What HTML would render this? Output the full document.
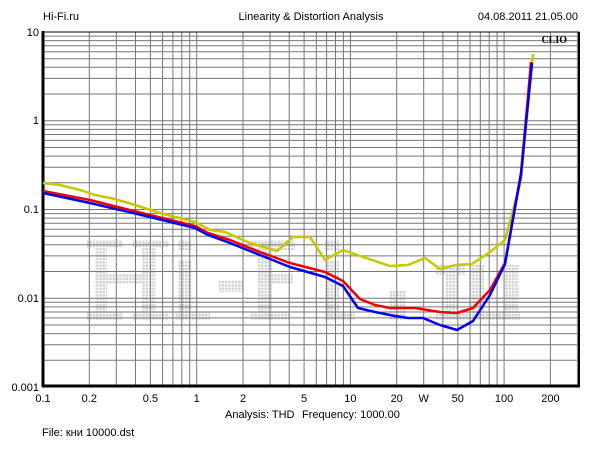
<!DOCTYPE html>
<html><head><meta charset="utf-8"><style>
html,body{margin:0;padding:0;background:#fff;width:600px;height:450px;overflow:hidden}
svg{display:block;font-family:"Liberation Sans",sans-serif}
</style></head><body>
<svg id="s" width="600" height="450" viewBox="0 0 600 450" xmlns="http://www.w3.org/2000/svg">
<defs><pattern id="dots" width="3.3" height="3.3" patternUnits="userSpaceOnUse"><circle cx="1.6" cy="1.6" r="1.4" fill="#d4d4d4"/></pattern></defs>
<rect width="600" height="450" fill="#fff"/>
<g id="wm" fill="url(#dots)">
<rect x="87" y="240" width="36" height="8"/><rect x="95" y="248" width="12" height="72"/><rect x="87" y="312" width="36" height="8"/>
<rect x="95" y="274" width="50" height="10"/>
<rect x="133" y="240" width="36" height="8"/><rect x="142" y="248" width="14" height="72"/><rect x="133" y="312" width="36" height="8"/>
<rect x="178" y="240" width="14" height="10"/><rect x="178" y="260" width="14" height="60"/><rect x="175" y="312" width="35" height="8"/>
<rect x="219" y="280" width="24" height="12"/>
<rect x="250" y="240" width="45" height="10"/><rect x="258" y="250" width="14" height="70"/><rect x="250" y="312" width="40" height="8"/><rect x="258" y="274" width="35" height="10"/>
<rect x="325" y="240" width="14" height="10"/><rect x="325" y="260" width="14" height="60"/><rect x="325" y="312" width="30" height="8"/>
<rect x="390" y="290" width="16" height="30"/>
<rect x="435" y="265" width="30" height="10"/><rect x="445" y="275" width="12" height="45"/><rect x="435" y="312" width="35" height="8"/>
<rect x="470" y="265" width="14" height="55"/><rect x="505" y="265" width="14" height="50"/><rect x="475" y="312" width="45" height="8"/>
</g>
<g id="grid" stroke="#777" stroke-width="1"></g>
<rect x="43" y="32" width="536" height="354" fill="none" stroke="#000" stroke-width="1"/>
<line x1="43" y1="31" x2="43" y2="387" stroke="#000" stroke-width="3"/>
<line x1="42" y1="386" x2="580" y2="386" stroke="#000" stroke-width="3"/>
<line x1="579" y1="32" x2="579" y2="387" stroke="#000" stroke-width="2"/>
<g fill="none" stroke-width="2.5" stroke-linejoin="round">
<polyline stroke="#c8c800" points="43,183 60,185 80,190 95,195 115,199 135,205 160,213 195,222 210,230 225,232 250,243 277,251 293,237 310,237 325,260 343,250 360,256 390,266 408,265 425,258 440,269 456,265 472,264 490,252 505,240 521,180 533,54"/>
<polyline stroke="#f00000" points="43,191 90,200 150,215 195,226 208,233 230,240 260,252 290,263 325,272 343,281 360,299 375,305 390,308 415,308 440,312 457,313 473,308 490,290 505,263 521,175 531,62"/>
<polyline stroke="#0000f0" points="43,193 90,203 150,217 195,228 208,235 230,243 260,255 290,267 325,277 343,286 358,308 375,312 395,316 408,318 423,318 440,325 457,330 473,321 490,295 505,264 521,173 532,63"/>
</g>
<g font-size="11" fill="#000">
<text x="43" y="20">Hi-Fi.ru</text>
<text x="311" y="20" text-anchor="middle">Linearity &amp; Distortion Analysis</text>
<text x="578" y="20" text-anchor="end">04.08.2011 21.05.00</text>
<text x="567" y="43" text-anchor="end" font-family="Liberation Serif,serif" font-weight="bold" font-size="10">CLIO</text>
<g text-anchor="end"><text x="39" y="36">10</text><text x="39" y="124">1</text><text x="39" y="213">0.1</text><text x="39" y="302">0.01</text><text x="39" y="391">0.001</text></g>
<g text-anchor="middle" id="xl"></g>
<text x="225" y="418">Analysis: THD</text>
<text x="302" y="418">Frequency: 1000.00</text>
<text x="42" y="436">File: кни 10000.dst</text>
</g>
</svg>
<script>
var ns="http://www.w3.org/2000/svg",g=document.getElementById("grid"),xl=document.getElementById("xl");
function X(f){return 43+153.7*Math.log10(f/0.1)}
function Y(v){return 32+88.75*Math.log10(10/v)}
for(var d=0.1;d<1000;d*=10)for(var k=1;k<10;k++){var x=X(d*k);if(x>43.5&&x<578.5){var l=document.createElementNS(ns,"line");l.setAttribute("x1",x.toFixed(1));l.setAttribute("x2",x.toFixed(1));l.setAttribute("y1",32);l.setAttribute("y2",386);g.appendChild(l);}}
for(var d=0.001;d<10;d*=10)for(var k=1;k<10;k++){var y=Y(d*k);if(y>32.5&&y<385.5){var l=document.createElementNS(ns,"line");l.setAttribute("x1",43);l.setAttribute("x2",579);l.setAttribute("y1",y.toFixed(1));l.setAttribute("y2",y.toFixed(1));g.appendChild(l);}}
[[0.1,"0.1"],[0.2,"0.2"],[0.5,"0.5"],[1,"1"],[2,"2"],[5,"5"],[10,"10"],[20,"20"],[30,"W"],[50,"50"],[100,"100"],[200,"200"]].forEach(function(p){var t=document.createElementNS(ns,"text");t.setAttribute("x",X(p[0]).toFixed(1));t.setAttribute("y",402);t.textContent=p[1];xl.appendChild(t);});
</script>
</body></html>
